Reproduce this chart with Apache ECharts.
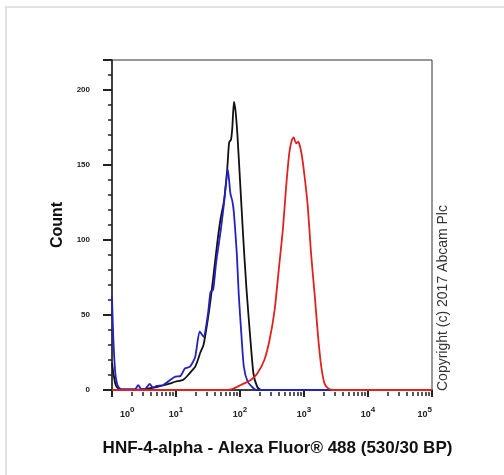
<!DOCTYPE html>
<html>
<head>
<meta charset="utf-8">
<script src="https://cdn.jsdelivr.net/npm/echarts@6/dist/echarts.min.js"></script>
<style>
  html, body { margin: 0; padding: 0; background: #fff; }
  #frame { position: absolute; left: 5px; top: 6px; width: 600px; height: 600px; border: 2px solid #e2e2e2; }
  #main { position: absolute; left: 0; top: 0; width: 504px; height: 475px; }
</style>
</head>
<body>
<div id="frame"></div>
<div id="main"></div>
<script>
// x values are log10 of fluorescence (decades), y values are counts
var blackX = [0, 0.03, 0.06, 0.1, 0.15, 0.3, 0.5, 0.7, 0.8, 0.91, 0.99, 1.07, 1.12, 1.19, 1.25, 1.3, 1.35, 1.38, 1.43, 1.49, 1.54, 1.59, 1.65, 1.7, 1.75, 1.8, 1.83, 1.86, 1.88, 1.905, 1.93, 1.96, 2.0, 2.05, 2.1, 2.16, 2.21, 2.27, 2.33, 2.5, 5];
var blackY = [18, 9, 3, 1, 0, 0, 0.5, 2, 3, 4.4, 5.5, 6.2, 7, 10, 13, 15.5, 21, 25, 30, 45, 60, 78, 100, 115, 126, 147, 165, 167, 175, 192, 186, 170, 140, 102, 68, 35, 11, 2, 0, 0, 0];

var blueX = [0, 0.02, 0.05, 0.08, 0.12, 0.2, 0.3, 0.36, 0.41, 0.46, 0.52, 0.59, 0.64, 0.7, 0.8, 0.91, 0.99, 1.07, 1.14, 1.22, 1.3, 1.37, 1.43, 1.5, 1.54, 1.58, 1.63, 1.7, 1.75, 1.81, 1.85, 1.88, 1.905, 1.95, 1.98, 2.02, 2.06, 2.12, 2.19, 2.24, 2.4, 5];
var blueY = [62, 35, 12, 4, 1, 0.5, 0.5, 0.5, 3.3, 0.5, 0.8, 4, 1.5, 2.7, 3.3, 6.7, 8.9, 9.3, 14.4, 15.6, 22, 39, 35.5, 51, 65.5, 66.7, 86, 106.7, 124.4, 147, 131, 126, 118, 91, 64, 38, 15.5, 5.5, 2, 0.3, 0, 0];

var redX = [0, 1.8, 1.9, 2.01, 2.17, 2.27, 2.38, 2.46, 2.54, 2.61, 2.67, 2.72, 2.77, 2.81, 2.84, 2.86, 2.88, 2.91, 2.96, 3.01, 3.06, 3.11, 3.17, 3.22, 3.27, 3.32, 3.38, 3.46, 5];
var redY = [0, 0, 1, 3.3, 6.7, 11, 20, 33, 53, 82, 107, 135, 158, 166.7, 168.4, 166, 164.4, 165.5, 158, 142, 122, 91, 62, 35.5, 15.5, 4.4, 1, 0, 0];

var decades = [0, 1, 2, 3, 4, 5];
var minorMult = [2, 3, 4, 5, 6, 7, 8, 9];

function pairs(xs, ys) {
  return xs.map(function (x, i) { return [x, ys[i]]; });
}

// minor ticks at 2..9 x 10^n, in decade units
var minorTicks = [];
decades.slice(0, -1).forEach(function (d) {
  minorMult.forEach(function (m) { minorTicks.push(d + Math.log10(m)); });
});

var font = '"Liberation Sans", Arial, sans-serif';
var axisColor = '#222';

var chart = echarts.init(document.getElementById('main'));
var option = {
  backgroundColor: 'transparent',
  animation: false,
  grid: {
    left: 112, right: 72, top: 60, bottom: 85,
    show: true, borderColor: '#333', borderWidth: 1
  },
  xAxis: [{
    type: 'value', min: 0, max: 5, interval: 1, position: 'bottom', offset: 2,
    name: 'HNF-4-alpha - Alexa Fluor® 488 (530/30 BP)',
    nameLocation: 'middle', nameGap: 48,
    nameTextStyle: { fontFamily: font, fontSize: 17, fontWeight: 'bold', color: '#111', padding: [0, 0, 0, 11] },
    axisLine: { lineStyle: { color: axisColor, width: 1.5 } },
    axisTick: { length: 7, lineStyle: { color: axisColor, width: 2 } },
    splitLine: { show: false },
    axisLabel: {
      margin: 14, alignMinLabel: 'left', alignMaxLabel: 'right',
      formatter: function (v) {
        return (v === 0 ? '{gap|}' : '') + '{b|10}{s|' + v + '}';
      },
      rich: {
        gap: { width: 8 },
        b: { fontFamily: font, fontSize: 9, fontWeight: 'bold', color: '#222', verticalAlign: 'bottom', lineHeight: 13 },
        s: { fontFamily: font, fontSize: 8, fontWeight: 'bold', color: '#222', verticalAlign: 'top', lineHeight: 13 }
      }
    }
  }, {
    type: 'value', min: 0, max: 5, position: 'bottom', offset: 2,
    axisLine: { show: false },
    axisTick: { show: true, length: 4, customValues: minorTicks, lineStyle: { color: axisColor, width: 1.5 } },
    axisLabel: { show: false },
    splitLine: { show: false }
  }],
  yAxis: {
    type: 'value', min: 0, max: 220, interval: 50,
    name: 'Count', nameLocation: 'middle', nameGap: 45, nameRotate: 90,
    nameTextStyle: { fontFamily: font, fontSize: 16, fontWeight: 'bold', color: '#111' },
    axisLine: { show: true, lineStyle: { color: axisColor, width: 1.5 } },
    axisTick: { show: true, length: 9, lineStyle: { color: axisColor, width: 2 } },
    minorTick: { show: true, splitNumber: 5, length: 4, lineStyle: { color: axisColor, width: 1.5 } },
    splitLine: { show: false },
    axisLabel: {
      margin: 22, showMaxLabel: false,
      fontFamily: font, fontSize: 8, fontWeight: 'bold', color: '#222'
    }
  },
  graphic: [{
    type: 'text', x: 436, y: 391, rotation: Math.PI / 2,
    style: {
      text: 'Copyright (c) 2017 Abcam Plc',
      font: '14px ' + font, fill: '#333',
      textAlign: 'left', textVerticalAlign: 'top'
    }
  }],
  series: [{
    name: 'black', type: 'line', data: pairs(blackX, blackY),
    showSymbol: false, smooth: 0.2, xAxisIndex: 0,
    lineStyle: { color: '#111', width: 1.8 }
  }, {
    name: 'blue', type: 'line', data: pairs(blueX, blueY),
    showSymbol: false, smooth: 0.2, xAxisIndex: 0,
    lineStyle: { color: '#2222c0', width: 1.8 }
  }, {
    name: 'red', type: 'line', data: pairs(redX, redY),
    showSymbol: false, smooth: 0.2, xAxisIndex: 0,
    lineStyle: { color: '#e0221f', width: 1.8 }
  }]
};
chart.setOption(option);
</script>
</body>
</html>
